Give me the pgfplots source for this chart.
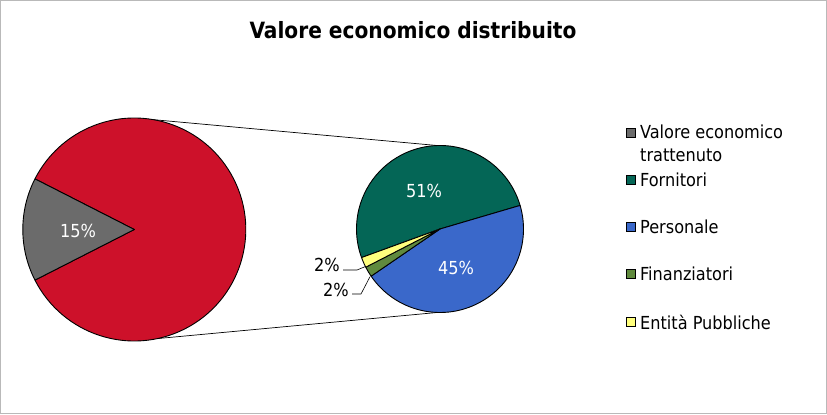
\documentclass[border=0pt]{standalone}
\usepackage{pgfplots}
\pgfplotsset{compat=1.18}
\usepackage{fontspec}
\setmainfont{DejaVu Sans Condensed}
\definecolor{cred}{RGB}{205,17,42}
\definecolor{cgray}{RGB}{107,107,107}
\definecolor{cgreen}{RGB}{4,102,86}
\definecolor{cblue}{RGB}{58,104,202}
\definecolor{colive}{RGB}{96,138,62}
\definecolor{cyellow}{RGB}{255,255,125}
\newcommand\pieslice[6]{%
  \filldraw[fill=#6, draw=black, line width=0.9bp, line join=round]
    (axis cs:#1,#2) -- ++(#4:#3 bp) arc[start angle=#4, end angle=#5, radius=#3 bp] -- cycle;}
\begin{document}
\begin{tikzpicture}
% left pie: retained vs distributed (percent)
\def\vTrat{15}\def\vDist{85}
% right pie: distributed split (percent)
\def\vForn{51}\def\vPers{45}\def\vFin{2}\def\vEnt{2}
\pgfmathsetmacro\La{180-1.8*\vTrat}
\pgfmathsetmacro\Lb{180+1.8*\vTrat}
\pgfmathsetmacro\Lc{\La+360}
\def\Rs{16.4}
\pgfmathsetmacro\Ra{\Rs-3.6*\vPers}
\pgfmathsetmacro\Rb{\Ra-3.6*\vFin}
\pgfmathsetmacro\Rc{\Rb-3.6*\vEnt}
\pgfmathsetmacro\Rd{\Rs+3.6*\vForn}
\begin{axis}[x=1bp, y=1bp, xmin=0, xmax=827, ymin=0, ymax=414,
  hide axis, clip=false, anchor=origin, at={(0,0)}]
\draw[gray!55, line width=1bp] (axis cs:0.5,0.5) rectangle (axis cs:826.5,413.5);
\node[font=\bfseries\fontsize{22.5}{26}\selectfont] at (axis cs:413,384) {Valore economico distribuito};
% connectors
\draw[black, line width=0.7bp] (axis cs:134.3,184.5) ++(80:111.5bp) -- (axis cs:437,268.5);
\draw[black, line width=0.7bp] (axis cs:134.3,184.5) ++(-78:111.5bp) -- (axis cs:437,101.5);
% left pie
\pieslice{134.3}{184.5}{111.5}{\Lb}{\Lc}{cred}
\pieslice{134.3}{184.5}{111.5}{\La}{\Lb}{cgray}
% right pie
\pieslice{440}{185}{83.5}{\Rs}{\Rd}{cgreen}
\pieslice{440}{185}{83.5}{\Ra}{\Rs}{cblue}
\pieslice{440}{185}{83.5}{\Rb}{\Ra}{colive}
\pieslice{440}{185}{83.5}{\Rc}{\Rb}{cyellow}
% data labels
\node[text=white, font=\fontsize{18}{20}\selectfont] at (axis cs:78,183) {\vTrat\%};
\node[text=white, font=\fontsize{18}{20}\selectfont] at (axis cs:424,223) {\vForn\%};
\node[text=white, font=\fontsize{18}{20}\selectfont] at (axis cs:456,146) {\vPers\%};
\node[text=black, font=\fontsize{18}{20}\selectfont] at (axis cs:327,149) {\vEnt\%};
\node[text=black, font=\fontsize{18}{20}\selectfont] at (axis cs:336,124) {\vFin\%};
\draw[black, line width=0.6bp] (axis cs:343,144) -- (axis cs:357,144) -- (axis cs:365,147.3);
\draw[black, line width=0.6bp] (axis cs:352,120) -- (axis cs:361,120) -- (axis cs:370,137.3);
% legend
\tikzset{lgbox/.style={draw=black, line width=0.8bp, minimum size=9bp, inner sep=0pt},
         lgtxt/.style={anchor=west, inner sep=0pt, font=\fontsize{18}{20}\selectfont}}
\node[lgbox, fill=cgray] at (axis cs:631,280.7) {};
\node[lgtxt] at (axis cs:640,282) {Valore economico};
\node[lgtxt] at (axis cs:640,259) {trattenuto};
\node[lgbox, fill=cgreen] at (axis cs:631,234) {};
\node[lgtxt] at (axis cs:640,234) {Fornitori};
\node[lgbox, fill=cblue] at (axis cs:631,186.7) {};
\node[lgtxt] at (axis cs:640,186.7) {Personale};
\node[lgbox, fill=colive] at (axis cs:631,139.7) {};
\node[lgtxt] at (axis cs:640,139.7) {Finanziatori};
\node[lgbox, fill=cyellow] at (axis cs:631,92) {};
\node[lgtxt] at (axis cs:640,92) {Entità Pubbliche};
\end{axis}
\end{tikzpicture}
\end{document}
